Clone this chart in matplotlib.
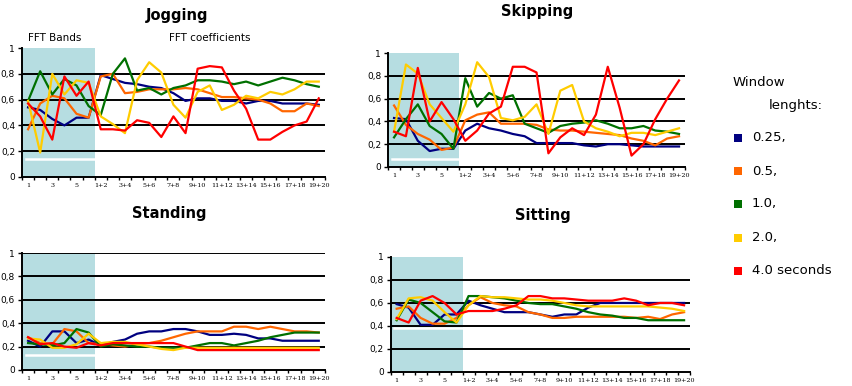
import matplotlib.pyplot as plt
from matplotlib.patches import Rectangle

# categories: 6 FFT bands, then 19 pairs of FFT coefficients
BANDS = [str(i) for i in range(1, 7)]
PAIRS = [f"{i}+{i + 1}" for i in range(1, 20)]
CATS = BANDS + PAIRS

SERIES = ["0.25,", "0.5,", "1.0,", "2.0,", "4.0 seconds"]
COLORS = ["#000080", "#ff6600", "#007000", "#ffcc00", "#ff0000"]

jog_025 = [0.54, 0.52, 0.45, 0.40, 0.46, 0.46, 0.79, 0.76, 0.73, 0.72, 0.70, 0.69, 0.65,
           0.59, 0.61, 0.61, 0.59, 0.59, 0.57, 0.59, 0.59, 0.57, 0.57, 0.57, 0.56]
jog_05 = [0.37, 0.57, 0.63, 0.61, 0.49, 0.46, 0.78, 0.80, 0.65, 0.66, 0.68, 0.68, 0.68,
          0.69, 0.68, 0.65, 0.62, 0.62, 0.61, 0.60, 0.57, 0.51, 0.51, 0.57, 0.55]
jog_1 = [0.59, 0.82, 0.64, 0.76, 0.71, 0.55, 0.48, 0.80, 0.92, 0.67, 0.69, 0.64, 0.69,
         0.71, 0.75, 0.75, 0.74, 0.72, 0.74, 0.71, 0.74, 0.77, 0.75, 0.72, 0.70]
jog_2 = [0.59, 0.19, 0.80, 0.64, 0.75, 0.73, 0.47, 0.41, 0.34, 0.75, 0.89, 0.81, 0.56,
         0.46, 0.66, 0.71, 0.52, 0.56, 0.63, 0.61, 0.66, 0.64, 0.68, 0.74, 0.74]
jog_4 = [0.57, 0.47, 0.29, 0.78, 0.63, 0.74, 0.37, 0.37, 0.36, 0.44, 0.42, 0.31, 0.47,
         0.34, 0.84, 0.86, 0.85, 0.67, 0.53, 0.29, 0.29, 0.35, 0.40, 0.43, 0.61]

skip_025 = [0.43, 0.42, 0.23, 0.14, 0.16, 0.16, 0.32, 0.38, 0.34, 0.32, 0.29, 0.27, 0.21,
            0.21, 0.21, 0.21, 0.19, 0.18, 0.20, 0.20, 0.19, 0.18, 0.18, 0.18, 0.18]
skip_05 = [0.54, 0.37, 0.29, 0.24, 0.15, 0.17, 0.41, 0.46, 0.48, 0.38, 0.38, 0.38, 0.37,
           0.33, 0.32, 0.32, 0.31, 0.30, 0.29, 0.28, 0.25, 0.23, 0.19, 0.25, 0.27]
skip_1 = [0.26, 0.42, 0.55, 0.36, 0.29, 0.16, 0.78, 0.53, 0.65, 0.60, 0.63, 0.38, 0.34,
          0.30, 0.36, 0.38, 0.39, 0.41, 0.38, 0.34, 0.34, 0.36, 0.32, 0.31, 0.29]
skip_2 = [0.31, 0.90, 0.82, 0.55, 0.43, 0.31, 0.55, 0.92, 0.79, 0.43, 0.41, 0.44, 0.55,
          0.29, 0.67, 0.72, 0.40, 0.34, 0.31, 0.27, 0.30, 0.30, 0.28, 0.31, 0.34]
skip_4 = [0.31, 0.27, 0.87, 0.40, 0.57, 0.42, 0.23, 0.32, 0.47, 0.53, 0.88, 0.88, 0.83,
          0.12, 0.26, 0.34, 0.28, 0.46, 0.88, 0.52, 0.10, 0.20, 0.42, 0.60, 0.76]

stand_025 = [0.25, 0.20, 0.33, 0.33, 0.23, 0.26, 0.21, 0.24, 0.26, 0.31, 0.33, 0.33, 0.35,
             0.35, 0.33, 0.30, 0.30, 0.31, 0.30, 0.27, 0.27, 0.25, 0.25, 0.25, 0.25]
stand_05 = [0.28, 0.23, 0.22, 0.35, 0.33, 0.23, 0.22, 0.21, 0.20, 0.22, 0.23, 0.25, 0.28,
            0.31, 0.33, 0.33, 0.33, 0.37, 0.37, 0.35, 0.37, 0.35, 0.33, 0.33, 0.32]
stand_1 = [0.23, 0.22, 0.21, 0.23, 0.35, 0.32, 0.20, 0.22, 0.21, 0.20, 0.20, 0.19, 0.19,
           0.19, 0.21, 0.23, 0.23, 0.21, 0.23, 0.25, 0.28, 0.30, 0.32, 0.32, 0.32]
stand_2 = [0.27, 0.26, 0.19, 0.19, 0.22, 0.31, 0.23, 0.24, 0.24, 0.22, 0.20, 0.18, 0.17,
           0.19, 0.19, 0.19, 0.19, 0.19, 0.19, 0.19, 0.19, 0.19, 0.19, 0.19, 0.19]
stand_4 = [0.28, 0.22, 0.23, 0.20, 0.19, 0.23, 0.21, 0.23, 0.23, 0.23, 0.23, 0.23, 0.23,
           0.20, 0.17, 0.17, 0.17, 0.17, 0.17, 0.17, 0.17, 0.17, 0.17, 0.17, 0.17]

sit_025 = [0.59, 0.56, 0.41, 0.41, 0.50, 0.50, 0.62, 0.58, 0.55, 0.52, 0.52, 0.52, 0.50,
           0.48, 0.50, 0.50, 0.56, 0.60, 0.60, 0.60, 0.60, 0.60, 0.60, 0.60, 0.60]
sit_05 = [0.55, 0.57, 0.47, 0.42, 0.42, 0.47, 0.58, 0.65, 0.60, 0.58, 0.57, 0.52, 0.50,
          0.47, 0.47, 0.48, 0.48, 0.48, 0.48, 0.48, 0.47, 0.48, 0.46, 0.50, 0.52]
sit_1 = [0.45, 0.63, 0.60, 0.52, 0.44, 0.43, 0.66, 0.66, 0.65, 0.64, 0.62, 0.60, 0.59,
         0.59, 0.57, 0.55, 0.52, 0.50, 0.49, 0.47, 0.47, 0.45, 0.45, 0.45, 0.45]
sit_2 = [0.46, 0.64, 0.65, 0.62, 0.52, 0.43, 0.58, 0.66, 0.65, 0.65, 0.64, 0.63, 0.63,
         0.62, 0.60, 0.58, 0.57, 0.57, 0.57, 0.57, 0.57, 0.57, 0.56, 0.55, 0.53]
sit_4 = [0.47, 0.43, 0.62, 0.66, 0.60, 0.50, 0.53, 0.53, 0.53, 0.55, 0.58, 0.66, 0.66,
         0.64, 0.64, 0.63, 0.62, 0.62, 0.62, 0.64, 0.62, 0.58, 0.60, 0.60, 0.58]


def draw_panel(ax, series, strip_y, top_grid=False):
    n = len(CATS)
    x = list(range(n))
    ax.add_patch(Rectangle((-0.5, 0), len(BANDS), 1, color="#b6dde1", lw=0, zorder=0))
    ax.plot([-0.2, len(BANDS) - 0.5], [strip_y, strip_y], color="white", lw=1.8, zorder=1)
    grid = [0.2, 0.4, 0.6, 0.8] + ([1.0] if top_grid else [])
    for g in grid:
        ax.axhline(g, color="black", lw=1.4, zorder=2)
    for vals, c in zip(series, COLORS):
        ax.plot(x, vals, color=c, lw=1.6, zorder=3)
    ax.set_xlim(-0.5, n - 0.5)
    ax.set_ylim(0, 1)
    ax.set_xticks(x[::2])
    ax.set_xticklabels(CATS[::2], family="serif", fontsize=4.6)
    ax.set_xticks([i - 0.5 for i in range(n + 1)], minor=True)
    ax.tick_params(axis="x", which="major", length=0, pad=4)
    ax.tick_params(axis="x", which="minor", length=2.5, width=1.0, direction="out")
    ax.set_yticks([0, 0.2, 0.4, 0.6, 0.8, 1.0])
    ax.set_yticklabels(["0", "0,2", "0,4", "0,6", "0,8", "1"], fontsize=6.5)
    ax.tick_params(axis="y", length=3, width=1.0, pad=2)
    for s in ["top", "right"]:
        ax.spines[s].set_visible(False)
    ax.spines["left"].set_linewidth(1.4)
    ax.spines["bottom"].set_linewidth(1.4)


fig = plt.figure(figsize=(8.53, 3.86), dpi=100)

ax_jog = fig.add_axes([0.0258, 0.5415, 0.355, 0.334])
ax_skip = fig.add_axes([0.455, 0.5674, 0.348, 0.295])
ax_stand = fig.add_axes([0.0258, 0.0415, 0.355, 0.303])
ax_sit = fig.add_axes([0.458, 0.0363, 0.351, 0.298])

draw_panel(ax_jog, [jog_025, jog_05, jog_1, jog_2, jog_4], 0.14)
draw_panel(ax_skip, [skip_025, skip_05, skip_1, skip_2, skip_4], 0.07)
draw_panel(ax_stand, [stand_025, stand_05, stand_1, stand_2, stand_4], 0.13, top_grid=True)
draw_panel(ax_sit, [sit_025, sit_05, sit_1, sit_2, sit_4], 0.385)

tkw = dict(ha="center", va="center", fontsize=10.5, fontweight="bold")
fig.text(0.2075, 0.961, "Jogging", **tkw)
fig.text(0.630, 0.969, "Skipping", **tkw)
fig.text(0.199, 0.448, "Standing", **tkw)
fig.text(0.637, 0.443, "Sitting", **tkw)

fig.text(0.0645, 0.902, "FFT Bands", ha="center", va="center", fontsize=7.5)
fig.text(0.246, 0.902, "FFT coefficients", ha="center", va="center", fontsize=7.5)

# legend
fig.text(733 / 853, 1 - 83 / 386, "Window", ha="left", va="center", fontsize=9.5)
fig.text(769 / 853, 1 - 105 / 386, "lenghts:", ha="left", va="center", fontsize=9.5)
leg_y = [138, 171, 204, 238, 271]
for lab, c, y in zip(SERIES, COLORS, leg_y):
    fy = 1 - y / 386
    fig.patches.append(Rectangle((734 / 853, fy - 4 / 386), 8 / 853, 8 / 386,
                                 transform=fig.transFigure, color=c, lw=0))
    fig.text(752 / 853, fy, lab, ha="left", va="center", fontsize=9.5)

fig.savefig("out.png", dpi=100)
